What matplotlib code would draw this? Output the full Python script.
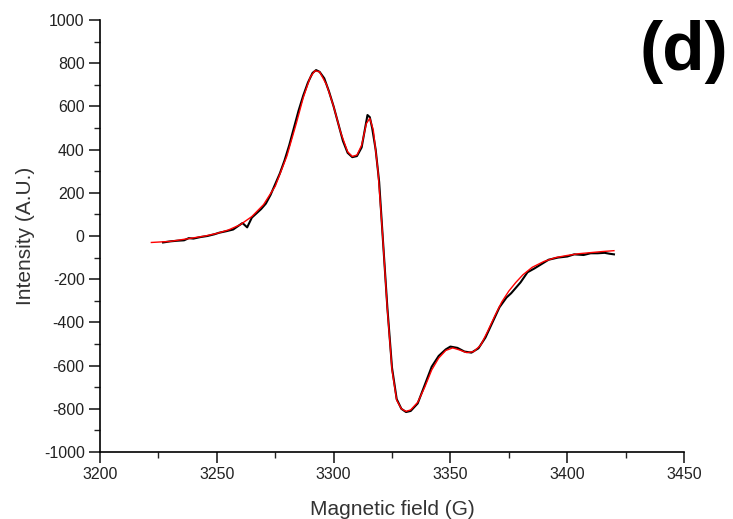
import numpy as np
import matplotlib.pyplot as plt
from matplotlib.ticker import MultipleLocator

# experimental spectrum (black)
field_exp = [3227, 3230, 3233, 3236, 3238, 3240, 3243, 3246, 3249, 3251, 3254, 3257,
             3259, 3261, 3263, 3265, 3267, 3269, 3271, 3273, 3275, 3277, 3279, 3281,
             3283, 3285, 3287, 3289, 3291, 3292.5, 3294, 3296, 3298, 3300, 3302, 3304,
             3306, 3308, 3310, 3312, 3313.5, 3314.5, 3315.5, 3316.5, 3318, 3319.5, 3321,
             3323, 3325, 3327, 3329, 3331, 3333, 3336, 3339, 3342, 3345, 3348, 3350,
             3353, 3356, 3359, 3362, 3365, 3368, 3371, 3374, 3376, 3378, 3380, 3383,
             3386, 3389, 3392, 3396, 3400, 3403, 3407, 3410, 3413, 3416, 3418, 3420]
int_exp = [-30, -25, -22, -20, -10, -12, -5, 0, 8, 15, 22, 30,
           45, 60, 40, 85, 105, 125, 150, 190, 240, 290, 350, 420,
           500, 580, 650, 710, 755, 768, 760, 730, 670, 600, 520, 440,
           385, 365, 370, 410, 500, 560, 550, 500, 400, 250, 0,
           -330, -610, -755, -800, -815, -810, -775, -690, -605, -555, -525, -512,
           -518, -535, -540, -520, -470, -400, -330, -285, -265, -240, -215, -168,
           -150, -130, -110, -100, -95, -85, -88, -80, -80, -78, -82, -85]

# simulated spectrum (red)
field_fit = [3222, 3230, 3238, 3245, 3250, 3255, 3260, 3265, 3270, 3275, 3280, 3284,
             3287, 3290, 3292, 3294, 3297, 3300, 3303, 3306, 3308, 3310, 3312, 3314,
             3315.5, 3317, 3319, 3321, 3323, 3325, 3327, 3329, 3331, 3333, 3336, 3339,
             3342, 3345, 3348, 3351, 3354, 3357, 3360, 3363, 3366, 3369, 3372, 3375,
             3378, 3381, 3385, 3390, 3395, 3400, 3405, 3410, 3415, 3420]
int_fit = [-30, -25, -12, 0, 12, 28, 52, 90, 145, 230, 370, 520,
           640, 735, 765, 760, 700, 600, 480, 390, 368, 375, 420, 520,
           545, 490, 300, 0, -340, -620, -760, -800, -812, -805, -770, -700,
           -620, -565, -530, -518, -528, -540, -535, -505, -440, -370, -305, -255,
           -215, -180, -145, -118, -100, -90, -82, -77, -72, -68]

plt.rcParams['font.family'] = ['Liberation Sans', 'DejaVu Sans']
plt.rcParams['axes.unicode_minus'] = False

fig = plt.figure(figsize=(7.33, 5.19), dpi=100)
ax = fig.add_axes([0.1364, 0.1291, 0.7968, 0.8324])

ax.plot(field_exp, int_exp, color='black', lw=1.5)
ax.plot(field_fit, int_fit, color='red', lw=1.0)

ax.set_xlim(3200, 3450)
ax.set_ylim(-1000, 1000)
ax.xaxis.set_major_locator(MultipleLocator(50))
ax.xaxis.set_minor_locator(MultipleLocator(25))
ax.yaxis.set_major_locator(MultipleLocator(200))
ax.yaxis.set_minor_locator(MultipleLocator(100))

for s in ['top', 'right']:
    ax.spines[s].set_visible(False)
for s in ['left', 'bottom']:
    ax.spines[s].set_linewidth(1.2)

ax.tick_params(which='major', length=8, width=1.2, labelsize=11.5, pad=3, colors='#222222')
ax.tick_params(which='minor', length=4, width=1.0, colors='#222222')

ax.set_xlabel('Magnetic field (G)', fontsize=15, color='#333333', labelpad=13)
ax.set_ylabel('Intensity (A.U.)', fontsize=15, color='#333333', labelpad=6)

fig.text(0.933, 0.90, '(d)', fontsize=50, fontweight='bold', ha='center', va='center')

fig.savefig('out.png', dpi=100)
